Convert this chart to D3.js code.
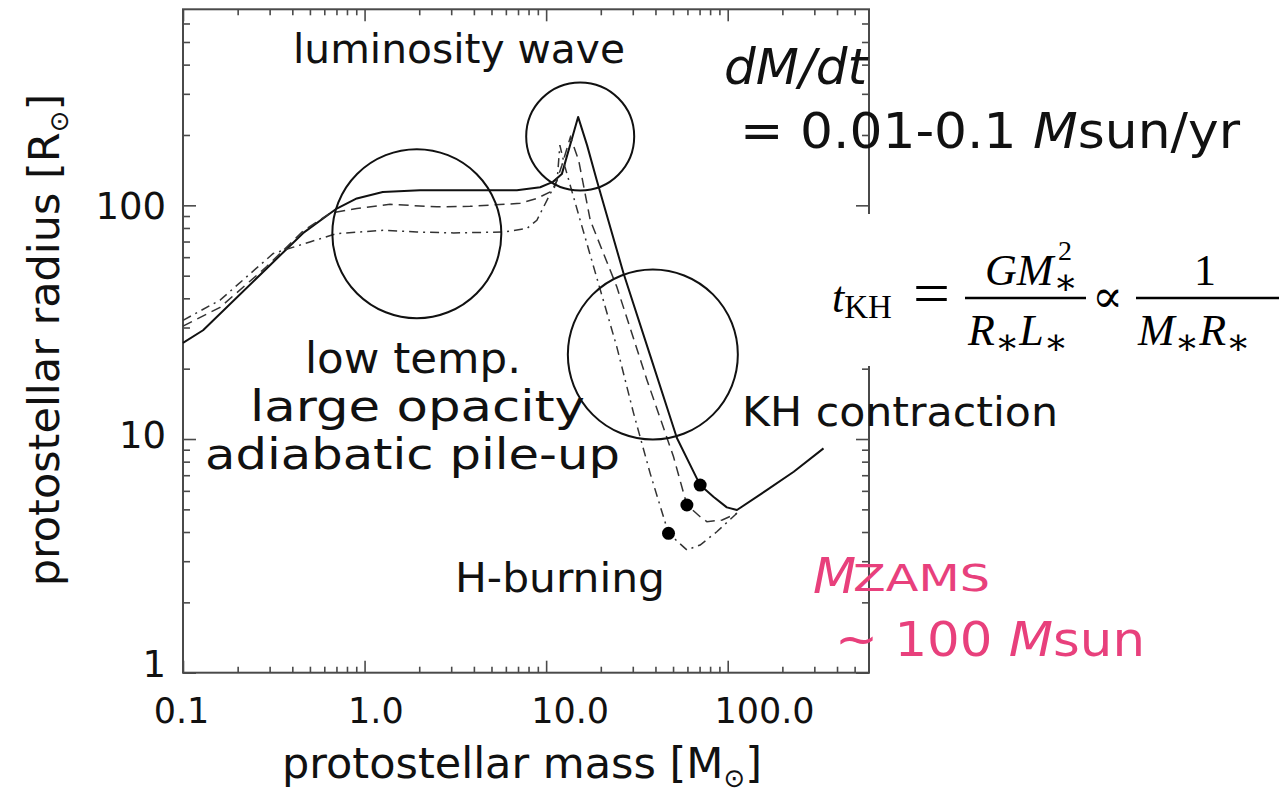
<!DOCTYPE html>
<html>
<head>
<meta charset="utf-8">
<script src="https://cdn.jsdelivr.net/npm/d3@7"></script>
<style>
  html, body { margin: 0; padding: 0; background: #fff; }
  svg { display: block; }
  .ann { font-family: "DejaVu Sans", sans-serif; fill: #111; }
  .pink { font-family: "DejaVu Sans", sans-serif; fill: #e8407c; }
  .serif { font-family: "Liberation Serif", "DejaVu Serif", serif; fill: #000; }
</style>
</head>
<body>
<svg id="chart" width="1279" height="795"></svg>
<script>
// Protostellar evolution: radius vs. mass for accretion rates of 0.01-0.1 Msun/yr

// Solid track
const solidMass   = [0.1, 0.129, 0.289, 0.458, 0.703, 0.906, 1.26, 2.02, 6.9, 9.27, 10.9, 12.2, 15.0, 16.8, 19.0, 26.7, 37.4, 52.5, 70.5, 83.4, 98.9, 112.4, 164, 231, 337];
const solidRadius = [25.8, 29.2, 53.7, 76, 96.9, 107, 114, 116, 116, 119.5, 126, 136, 239, 181, 128, 51.1, 22.8, 10.1, 6.35, 5.66, 5.10, 4.97, 6.04, 7.24, 9.12];

// Dashed track
const dashedMass   = [0.1, 0.16, 0.289, 0.458, 0.646, 0.906, 1.38, 2.5, 3.81, 7.19, 8.89, 10.97, 12.2, 13.6, 15.1, 17.5, 24.5, 35.9, 50.3, 59.6, 70.5, 76.8, 93.3, 112.4];
const dashedRadius = [30.4, 36.6, 54.7, 77.6, 92.5, 96.9, 101, 98.5, 99, 102, 107, 116, 148, 196, 156, 86.3, 44.8, 17.9, 8.39, 5.22, 4.65, 4.43, 4.50, 4.81];

// Dash-dot track
const dashDotMass   = [0.1, 0.16, 0.314, 0.5, 0.703, 1.27, 1.94, 3.09, 5.82, 7.83, 8.89, 10.1, 11.5, 11.9, 12.7, 15.4, 19.9, 24.5, 30.3, 37.4, 47.2, 59.6, 70.5, 87.1, 112.4];
const dashDotRadius = [32.2, 39.3, 62.2, 69.7, 75.7, 78.2, 76.9, 76.2, 76.9, 79.6, 86.3, 105, 128, 181, 146, 86.3, 43.3, 24.8, 12.9, 7.13, 3.95, 3.35, 3.52, 4.01, 4.81];

// Onset of hydrogen burning on each track
const burnMass   = [70.5, 59.6, 47.2];
const burnRadius = [6.35, 5.22, 3.95];

// Highlighted regions (centre mass, centre radius, radius in px)
const ringMass   = [1.94, 15.4, 38.7];
const ringRadius = [75.6, 197, 23.0];
const ringSize   = [84.5, 54, 85];

// Axis ticks and labels
const xMajor = [0.1, 1, 10, 100];
const xMinor = [0.2,0.3,0.4,0.5,0.6,0.7,0.8,0.9, 2,3,4,5,6,7,8,9, 20,30,40,50,60,70,80,90, 200,300,400,500];
const xTickLabels = ["0.1", "1.0", "10.0", "100.0"];
const yMajor = [1, 10, 100];
const yMinor = [2,3,4,5,6,7,8,9, 20,30,40,50,60,70,80,90, 200,300,400,500,600];
const yTickLabels = ["1", "10", "100"];

const svg = d3.select("#chart");

const plotL = 183, plotR = 869, plotT = 9.3, plotB = 672.7;
const x = d3.scaleLog().domain([0.1, 600]).range([plotL, plotR]);
const y = d3.scaleLog().domain([1, 690]).range([plotB, plotT]);

// Label placement scales
const xLab = d3.scaleLog().domain([0.1, 100]).range([181, 764]);
const yLab = d3.scaleLog().domain([1, 100]).range([665, 207]);

const axisColor = "#4a4a4a";

function styleAxis(g) {
  g.select(".domain").remove();
  g.selectAll(".tick line").attr("stroke", axisColor).attr("stroke-width", 1.6);
  g.selectAll(".tick text").remove();
}

// ticks on all four sides, pointing inward
[
  {ax: d3.axisBottom, tr: `translate(0,${plotB})`},
  {ax: d3.axisTop,    tr: `translate(0,${plotT})`},
].forEach(s => {
  svg.append("g").attr("transform", s.tr)
    .call(s.ax(x).tickValues(xMajor).tickSize(-12).tickFormat(""))
    .call(styleAxis);
  svg.append("g").attr("transform", s.tr)
    .call(s.ax(x).tickValues(xMinor).tickSize(-6).tickFormat(""))
    .call(styleAxis);
});
[
  {ax: d3.axisLeft,  tr: `translate(${plotL},0)`},
  {ax: d3.axisRight, tr: `translate(${plotR},0)`},
].forEach(s => {
  svg.append("g").attr("transform", s.tr)
    .call(s.ax(y).tickValues(yMajor).tickSize(-13).tickFormat(""))
    .call(styleAxis);
  svg.append("g").attr("transform", s.tr)
    .call(s.ax(y).tickValues(yMinor).tickSize(-7).tickFormat(""))
    .call(styleAxis);
});

// frame
svg.append("rect")
  .attr("x", plotL).attr("y", plotT)
  .attr("width", plotR - plotL).attr("height", plotB - plotT)
  .attr("fill", "none").attr("stroke", axisColor).attr("stroke-width", 2);

// tick labels
const gxl = svg.append("g").attr("transform", `translate(0,${plotB})`)
  .call(d3.axisBottom(xLab).tickValues(xMajor).tickSize(0).tickPadding(25)
        .tickFormat(d => xTickLabels[xMajor.indexOf(d)]));
gxl.select(".domain").remove();
gxl.selectAll("text").attr("font-family", "DejaVu Sans").attr("font-size", 35).attr("fill", "#111");

const gyl = svg.append("g").attr("transform", `translate(166,0)`)
  .call(d3.axisLeft(yLab).tickValues(yMajor).tickSize(0).tickPadding(0)
        .tickFormat(d => yTickLabels[yMajor.indexOf(d)]));
gyl.select(".domain").remove();
gyl.selectAll("text").attr("font-family", "DejaVu Sans").attr("font-size", 37).attr("fill", "#111");

// axis titles
const xt = svg.append("text").attr("class", "ann")
  .attr("x", 522).attr("y", 778).attr("text-anchor", "middle").attr("font-size", 43);
xt.append("tspan").text("protostellar mass [M");
xt.append("tspan").text("\u2299").attr("font-size", 26).attr("dy", 9);
xt.append("tspan").text("]").attr("dy", -9);

const yt = svg.append("text").attr("class", "ann")
  .attr("transform", "translate(59,340) rotate(-90)")
  .attr("text-anchor", "middle").attr("font-size", 43);
yt.append("tspan").text("protostellar radius [R");
yt.append("tspan").text("\u2299").attr("font-size", 26).attr("dy", 9);
yt.append("tspan").text("]").attr("dy", -9);

// tracks
const line = d3.line().x(d => x(d[0])).y(d => y(d[1]));
const plot = svg.append("g");
plot.append("path").datum(d3.zip(solidMass, solidRadius))
  .attr("d", line).attr("fill", "none").attr("stroke", "#111").attr("stroke-width", 2)
  .attr("stroke-linejoin", "round");
plot.append("path").datum(d3.zip(dashedMass, dashedRadius))
  .attr("d", line).attr("fill", "none").attr("stroke", "#333").attr("stroke-width", 1.5)
  .attr("stroke-dasharray", "10,6");
plot.append("path").datum(d3.zip(dashDotMass, dashDotRadius))
  .attr("d", line).attr("fill", "none").attr("stroke", "#333").attr("stroke-width", 1.5)
  .attr("stroke-dasharray", "9,5,2,5");

plot.selectAll("circle.burn").data(d3.zip(burnMass, burnRadius)).join("circle")
  .attr("class", "burn")
  .attr("cx", d => x(d[0])).attr("cy", d => y(d[1])).attr("r", 6.5).attr("fill", "#000");

plot.selectAll("circle.ring").data(d3.zip(ringMass, ringRadius, ringSize)).join("circle")
  .attr("class", "ring")
  .attr("cx", d => x(d[0])).attr("cy", d => y(d[1])).attr("r", d => d[2])
  .attr("fill", "none").attr("stroke", "#111").attr("stroke-width", 2);

// annotation text at a given start, baseline, size and width
function label(t, x0, y0, size, width) {
  return svg.append("text").attr("class", "ann")
    .attr("x", x0).attr("y", y0).attr("font-size", size)
    .attr("textLength", width).attr("lengthAdjust", "spacingAndGlyphs")
    .text(t);
}
label("luminosity wave", 293, 63, 40, 332);
label("low temp.", 305, 373, 42, 216);
label("large opacity", 250, 421, 42, 335);
label("adiabatic pile-up", 205, 469, 42, 415);
label("KH contraction", 742, 426, 40, 316);
label("H-burning", 455, 592, 40, 210);

svg.append("text").attr("class", "ann").attr("x", 724).attr("y", 84)
  .attr("font-size", 50).attr("font-style", "italic").text("dM/dt");
const rate = svg.append("text").attr("class", "ann").attr("x", 740).attr("y", 148).attr("font-size", 49)
  .attr("textLength", 500).attr("lengthAdjust", "spacingAndGlyphs");
rate.append("tspan").text("= 0.01-0.1 ");
rate.append("tspan").text("M").attr("font-style", "italic");
rate.append("tspan").text("sun/yr");

// Kelvin-Helmholtz timescale
svg.append("rect").attr("x", 800).attr("y", 214).attr("width", 479).attr("height", 152).attr("fill", "#fff");
const f = svg.append("g").attr("class", "serif").attr("font-size", 44);
const tk = f.append("text").attr("x", 832).attr("y", 312);
tk.append("tspan").text("t").attr("font-style", "italic");
tk.append("tspan").text("KH").attr("font-size", 33).attr("dy", 6);
f.append("text").attr("x", 913).attr("y", 313).attr("font-size", 60)
  .attr("textLength", 37).attr("lengthAdjust", "spacingAndGlyphs").text("=");
f.append("line").attr("x1", 965).attr("x2", 1086).attr("y1", 298).attr("y2", 298).attr("stroke", "#000").attr("stroke-width", 2.4);
const num1 = f.append("text").attr("x", 985).attr("y", 285);
num1.append("tspan").text("GM").attr("font-style", "italic");
num1.append("tspan").text("\u2217").attr("font-size", 36).attr("dy", 9);
num1.append("tspan").text("2").attr("font-size", 28).attr("dx", -20).attr("dy", -34);
const den1 = f.append("text").attr("x", 968).attr("y", 345);
den1.append("tspan").text("R").attr("font-style", "italic");
den1.append("tspan").text("\u2217").attr("font-size", 36).attr("dy", 9);
den1.append("tspan").text("L").attr("font-style", "italic").attr("dy", -9);
den1.append("tspan").text("\u2217").attr("font-size", 36).attr("dy", 9);
f.append("text").attr("x", 1092).attr("y", 312).attr("font-size", 46).text("\u221D");
f.append("line").attr("x1", 1136).attr("x2", 1279).attr("y1", 298).attr("y2", 298).attr("stroke", "#000").attr("stroke-width", 2.4);
f.append("text").attr("x", 1205).attr("y", 285).attr("text-anchor", "middle").text("1");
const den2 = f.append("text").attr("x", 1138).attr("y", 345);
den2.append("tspan").text("M").attr("font-style", "italic");
den2.append("tspan").text("\u2217").attr("font-size", 36).attr("dy", 9);
den2.append("tspan").text("R").attr("font-style", "italic").attr("dy", -9);
den2.append("tspan").text("\u2217").attr("font-size", 36).attr("dy", 9);

// final mass
svg.append("text").attr("class", "pink").attr("x", 813).attr("y", 593)
  .attr("font-size", 50).attr("font-style", "italic").text("M");
svg.append("text").attr("class", "pink").attr("x", 853).attr("y", 591)
  .attr("font-size", 37).attr("textLength", 137).attr("lengthAdjust", "spacingAndGlyphs").text("ZAMS");
const hund = svg.append("text").attr("class", "pink").attr("x", 835).attr("y", 656).attr("font-size", 48)
  .attr("textLength", 310).attr("lengthAdjust", "spacingAndGlyphs");
hund.append("tspan").text("~ 100 ");
hund.append("tspan").text("M").attr("font-style", "italic");
hund.append("tspan").text("sun");
</script>
</body>
</html>
